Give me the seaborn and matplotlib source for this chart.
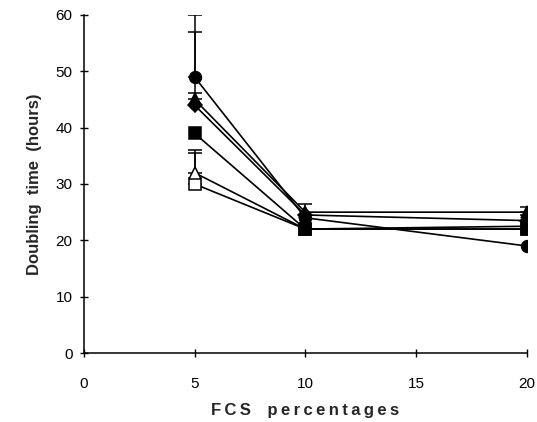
import numpy as np
import pandas as pd
import matplotlib
matplotlib.use("Agg")
import matplotlib.pyplot as plt
import seaborn as sns

# FCS percentages
fcs = [5, 10, 20]

# doubling time (hours) per series
circle_filled = [49, 24, 19]
triangle_filled = [45, 25, 25]
diamond_filled = [44, 24.5, 23.5]
square_filled = [39, 22, 22]
triangle_open = [32, 22, 22.5]
square_open = [30, 22, 22]

# upper error bars (0 = none drawn)
circle_err = [11, 0, 0]
triangle_err = [1.2, 0, 1]
diamond_err = [13, 2, 1]
square_err = [0, 0, 0]
triangle_open_err = [4, 0, 0]
square_open_err = [5.5, 0, 0]

# open symbols first so the filled ones sit on top where they overlap
series = [
    ("open square", square_open, square_open_err, "s", "white", 8),
    ("open triangle", triangle_open, triangle_open_err, "^", "white", 8.5),
    ("filled circle", circle_filled, circle_err, "o", "black", 8.5),
    ("filled square", square_filled, square_err, "s", "black", 8),
    ("filled diamond", diamond_filled, diamond_err, "D", "black", 7),
    ("filled triangle", triangle_filled, triangle_err, "^", "black", 8.5),
]

sns.set_style("ticks")
plt.rcParams['font.family'] = ['Liberation Sans', 'DejaVu Sans']

fig = plt.figure(figsize=(5.37, 4.22), dpi=100)
ax = fig.add_axes([0.156, 0.1635, 0.825, 0.801])

for i, (name, vals, err, mk, face, ms) in enumerate(series):
    df = pd.DataFrame({"fcs": fcs, "hours": vals, "err": err})
    eb = df[df["err"] > 0]
    if len(eb):
        ax.errorbar(eb["fcs"], eb["hours"], yerr=[np.zeros(len(eb)), eb["err"]],
                    fmt="none", ecolor="black", elinewidth=1.1, capsize=5, capthick=1.1,
                    zorder=2)
    sns.lineplot(data=df, x="fcs", y="hours", ax=ax, color="black", linewidth=1.2,
                 marker=mk, markersize=ms, markerfacecolor=face,
                 markeredgecolor="black", markeredgewidth=1.1, zorder=3 + i)

ax.set_xlim(0, 20)
ax.set_ylim(0, 60)
ax.set_xticks([0, 5, 10, 15, 20])
ax.set_yticks([0, 10, 20, 30, 40, 50, 60])
ax.tick_params(direction="inout", length=6, width=1, labelsize=11, colors="black")
ax.tick_params(axis="x", pad=14)
ax.tick_params(axis="y", pad=5)
for s in ["top", "right"]:
    ax.spines[s].set_visible(False)
for s in ["left", "bottom"]:
    ax.spines[s].set_linewidth(1.1)
    ax.spines[s].set_color("black")

ax.set_xlabel("F C S   p e r c e n t a g e s".replace("   ", "\u2003").replace(" ", "\u2009"),
              fontsize=12, fontweight="bold", labelpad=9)
ax.set_ylabel("Doubling  time  (hours)", fontsize=12, fontweight="bold", labelpad=10)

fig.savefig("out.png", dpi=100)
